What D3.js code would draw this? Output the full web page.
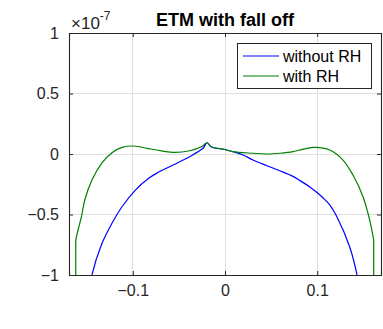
<!DOCTYPE html>
<html>
<head>
<meta charset="utf-8">
<script src="https://cdn.jsdelivr.net/npm/d3@7"></script>
<style>
html,body{margin:0;padding:0;background:#fff;}
svg{display:block;font-family:"Liberation Sans",Arial,Helvetica,sans-serif;}
</style>
</head>
<body>
<svg id="chart" width="383" height="329"></svg>
<script>
// ---- data (y values in units of 1e-7) ----
const titleText = "ETM with fall off";
const seriesNames = ["without RH", "with RH"];
const seriesColors = ["#0000ff", "#008000"];
const xTicks = [-0.1, 0, 0.1];
const xTickLabels = ["-0.1", "0", "0.1"];
const yTicks = [-1, -0.5, 0, 0.5, 1];
const yTickLabels = ["-1", "-0.5", "0", "0.5", "1"];
const xWithout = [-0.1480, -0.1443, -0.1334, -0.1226, -0.1117, -0.0972, -0.0828, -0.0744, -0.0564, -0.0383, -0.0239, -0.0195, -0.0148, 0.0000, 0.0087, 0.0195, 0.0304, 0.0449, 0.0593, 0.0738, 0.0810, 0.0919, 0.0998, 0.1063, 0.1136, 0.1208, 0.1352, 0.1432, 0.1470];
const yWithout = [-1.18, -1.000, -0.738, -0.573, -0.436, -0.298, -0.201, -0.160, -0.091, -0.022, 0.047, 0.093, 0.058, 0.037, 0.019, -0.008, -0.050, -0.095, -0.138, -0.185, -0.218, -0.272, -0.318, -0.362, -0.420, -0.510, -0.766, -1.000, -1.18];
const xWith = [-0.1619, -0.1619, -0.1594, -0.1557, -0.1521, -0.1443, -0.1334, -0.1226, -0.1117, -0.0990, -0.0846, -0.0744, -0.0564, -0.0383, -0.0256, -0.0195, -0.0148, 0.0000, 0.0087, 0.0304, 0.0449, 0.0593, 0.0738, 0.0810, 0.0954, 0.0990, 0.1136, 0.1280, 0.1388, 0.1497, 0.1569, 0.1613, 0.1613];
const yWith = [-3.0, -0.711, -0.628, -0.518, -0.380, -0.215, -0.074, 0.011, 0.055, 0.066, 0.047, 0.033, 0.014, 0.027, 0.060, 0.093, 0.060, 0.037, 0.019, 0.006, 0.000, 0.006, 0.019, 0.033, 0.055, 0.055, 0.033, -0.050, -0.174, -0.353, -0.545, -0.711, -3.0];

const svg = d3.select("#chart");
const L = 69, R = 381, T = 33, B = 275;
const axisColor = "#262626";
const x = d3.scaleLinear().domain([-0.1692, 0.1692]).range([L, R]);
const y = d3.scaleLinear().domain([-1, 1]).range([B, T]);

// grid
const grid = svg.append("g");
xTicks.forEach(t => grid.append("line").attr("x1", x(t)).attr("x2", x(t)).attr("y1", T).attr("y2", B)
  .attr("stroke", "#dfdfdf").attr("stroke-width", 1).attr("shape-rendering", "crispEdges"));
yTicks.forEach(t => grid.append("line").attr("x1", L).attr("x2", R).attr("y1", y(t)).attr("y2", y(t))
  .attr("stroke", "#dfdfdf").attr("stroke-width", 1).attr("shape-rendering", "crispEdges"));

// curves
svg.append("defs").append("clipPath").attr("id", "clip")
  .append("rect").attr("x", L).attr("y", T).attr("width", R - L).attr("height", B - T);
const smooth = d3.line().x(d => x(d[0])).y(d => y(d[1])).curve(d3.curveCatmullRom.alpha(0.5));
const straight = d3.line().x(d => x(d[0])).y(d => y(d[1]));
function drawSeries(xs, ys, color) {
  const pts = d3.zip(xs, ys);
  const g = svg.append("g").attr("clip-path", "url(#clip)")
    .attr("fill", "none").attr("stroke", color).attr("stroke-width", 1.2);
  // vertical fall-off tails (repeated x) drawn straight, the rest smooth
  let start = 0, end = pts.length - 1;
  if (pts[0][0] === pts[1][0]) { g.append("path").attr("d", straight(pts.slice(0, 2))); start = 1; }
  if (pts[end][0] === pts[end - 1][0]) { g.append("path").attr("d", straight(pts.slice(end - 1))); end = end - 1; }
  g.append("path").attr("d", smooth(pts.slice(start, end + 1)));
}
drawSeries(xWithout, yWithout, seriesColors[0]);
drawSeries(xWith, yWith, seriesColors[1]);

// axes with inward ticks
const tickLen = 4;
const axB = svg.append("g").attr("transform", `translate(0,${B})`)
  .call(d3.axisBottom(x).tickValues(xTicks).tickSize(-tickLen).tickPadding(10)
    .tickFormat((d, i) => xTickLabels[i].replace("-", "\u2212")));
const axT = svg.append("g").attr("transform", `translate(0,${T})`)
  .call(d3.axisTop(x).tickValues(xTicks).tickSize(-tickLen).tickFormat(""));
const axL = svg.append("g").attr("transform", `translate(${L},0)`)
  .call(d3.axisLeft(y).tickValues(yTicks).tickSize(-tickLen).tickPadding(10)
    .tickFormat((d, i) => yTickLabels[i].replace("-", "\u2212")));
const axR = svg.append("g").attr("transform", `translate(${R},0)`)
  .call(d3.axisRight(y).tickValues(yTicks).tickSize(-tickLen).tickFormat(""));
[axB, axT, axL, axR].forEach(a => {
  a.select(".domain").attr("stroke", axisColor).attr("stroke-width", 1.1);
  a.selectAll(".tick line").attr("stroke", axisColor);
  a.selectAll("text").attr("fill", axisColor).style("font-size", "16px").style("font-family", "Liberation Sans, Arial, sans-serif");
});
axB.selectAll("text").attr("dy", "0.71em");

// exponent label
const ex = svg.append("text").attr("x", 71).attr("y", 28.5).attr("fill", axisColor)
  .style("font-size", "17px");
ex.append("tspan").text("\u00d710");
ex.append("tspan").attr("dy", -9).style("font-size", "12px").text("-7");

// title
svg.append("text").attr("x", 225).attr("y", 26).attr("text-anchor", "middle")
  .style("font-size", "18px").style("font-weight", "bold").attr("fill", "#000").text(titleText);

// legend
const lg = svg.append("g");
lg.append("rect").attr("x", 237.5).attr("y", 43.5).attr("width", 134).attr("height", 45)
  .attr("fill", "#fff").attr("stroke", axisColor).attr("stroke-width", 1);
seriesNames.forEach((n, i) => {
  const yy = 56 + i * 20;
  lg.append("line").attr("x1", 243).attr("x2", 279).attr("y1", yy).attr("y2", yy)
    .attr("stroke", seriesColors[i]).attr("stroke-width", 1.2);
  lg.append("text").attr("x", 283).attr("y", yy).attr("dy", "0.35em").attr("fill", "#000")
    .style("font-size", "16px").text(n);
});
</script>
</body>
</html>
